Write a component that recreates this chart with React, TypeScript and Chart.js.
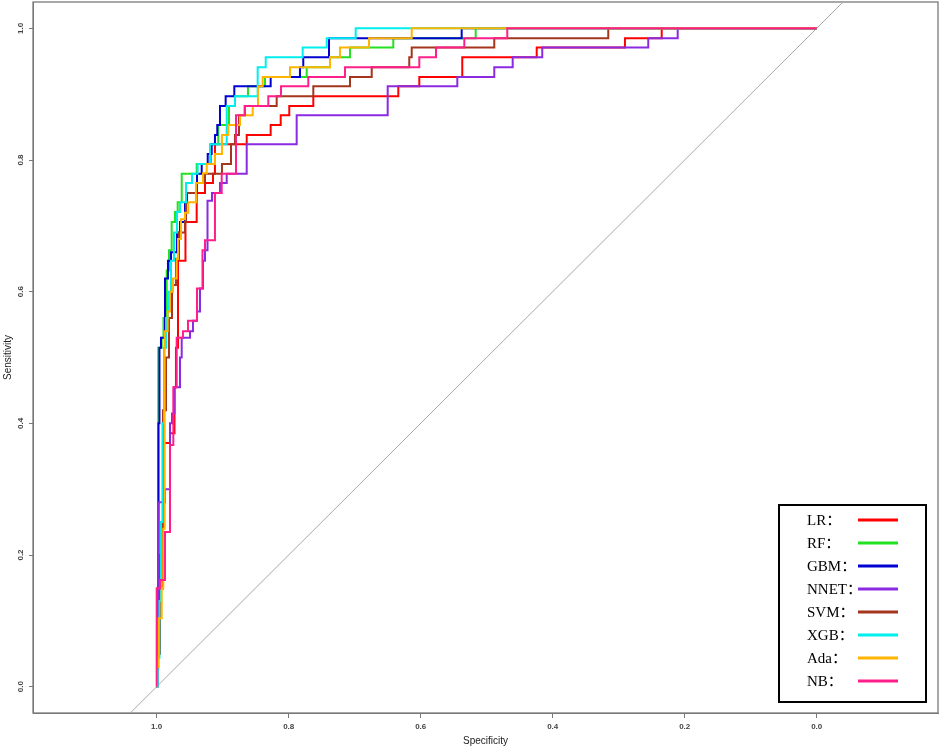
import { useEffect, useRef } from "react";
import { Chart, registerables } from "chart.js";

Chart.register(...registerables);

// ---------- data ----------
const modelNames = ["LR", "RF", "GBM", "NNET", "SVM", "XGB", "Ada", "NB"];
const modelColors = ["#FF0000", "#22E022", "#0000D0", "#8A2BE2", "#A5361E", "#00EEEE", "#FFB400", "#FF1F8A"];
const xTickValues = [1.0, 0.8, 0.6, 0.4, 0.2, 0.0];
const yTickValues = [0.0, 0.2, 0.4, 0.6, 0.8, 1.0];

// each curve: specificity / sensitivity at the top of every vertical step
const lrSpec = [1.0, 0.9995, 0.9905, 0.9798, 0.973, 0.9708, 0.9677, 0.9564, 0.9394, 0.9268, 0.9147, 0.9117, 0.8636, 0.8273, 0.8121, 0.7991, 0.7627, 0.6339, 0.6021, 0.537, 0.4242, 0.2905, 0.2348, 0.0];
const lrSens = [0.0, 0.149, 0.37, 0.385, 0.455, 0.515, 0.647, 0.706, 0.75, 0.765, 0.779, 0.824, 0.838, 0.853, 0.868, 0.882, 0.897, 0.912, 0.926, 0.956, 0.971, 0.985, 1.0, 1.0];

const rfSpec = [1.0, 0.9988, 0.9976, 0.9924, 0.9897, 0.9848, 0.9814, 0.9773, 0.9723, 0.9682, 0.9621, 0.9394, 0.9177, 0.9067, 0.8905, 0.8814, 0.8617, 0.8359, 0.7727, 0.7374, 0.7071, 0.6415, 0.5167, 0.0];
const rfSens = [0.0, 0.028, 0.515, 0.53, 0.56, 0.632, 0.663, 0.706, 0.721, 0.736, 0.779, 0.794, 0.824, 0.853, 0.882, 0.897, 0.912, 0.926, 0.941, 0.956, 0.971, 0.985, 1.0, 1.0];

const gbmSpec = [1.0, 0.9995, 0.9973, 0.9958, 0.9935, 0.9874, 0.9829, 0.9783, 0.9692, 0.9647, 0.9571, 0.9541, 0.9389, 0.9318, 0.9227, 0.9167, 0.9117, 0.9082, 0.9041, 0.8955, 0.8824, 0.8273, 0.7829, 0.7779, 0.7389, 0.5379, 0.0];
const gbmSens = [0.0, 0.131, 0.4, 0.515, 0.53, 0.62, 0.647, 0.66, 0.69, 0.706, 0.735, 0.75, 0.779, 0.794, 0.809, 0.824, 0.838, 0.853, 0.882, 0.897, 0.912, 0.926, 0.941, 0.956, 0.985, 1.0, 1.0];

const nnetSpec = [1.0, 0.9988, 0.9976, 0.9874, 0.9798, 0.9768, 0.973, 0.9647, 0.9621, 0.9495, 0.945, 0.9389, 0.9344, 0.9298, 0.9268, 0.923, 0.9162, 0.9041, 0.8939, 0.8636, 0.7879, 0.65, 0.5445, 0.4885, 0.4606, 0.4158, 0.2552, 0.2106, 0.0];
const nnetSens = [0.0, 0.045, 0.28, 0.3, 0.4, 0.415, 0.455, 0.5, 0.53, 0.54, 0.556, 0.57, 0.605, 0.647, 0.663, 0.738, 0.75, 0.765, 0.779, 0.824, 0.868, 0.912, 0.926, 0.941, 0.956, 0.971, 0.985, 1.0, 1.0];

const svmSpec = [1.0, 0.9995, 0.995, 0.9905, 0.9859, 0.9814, 0.9768, 0.9708, 0.9662, 0.9571, 0.9556, 0.9394, 0.9268, 0.9011, 0.8874, 0.8814, 0.8753, 0.8667, 0.8182, 0.7627, 0.7071, 0.6742, 0.6173, 0.6136, 0.4885, 0.3158, 0.0];
const svmSens = [0.0, 0.05, 0.2, 0.42, 0.5, 0.56, 0.61, 0.65, 0.69, 0.706, 0.75, 0.765, 0.779, 0.794, 0.824, 0.838, 0.868, 0.882, 0.897, 0.912, 0.926, 0.941, 0.956, 0.971, 0.985, 1.0, 1.0];

const xgbSpec = [1.0, 0.9988, 0.9958, 0.9935, 0.9912, 0.9889, 0.9859, 0.9829, 0.9783, 0.9738, 0.9692, 0.9647, 0.9556, 0.9465, 0.9379, 0.9192, 0.8939, 0.8814, 0.847, 0.8348, 0.7788, 0.7424, 0.6985, 0.0];
const xgbSens = [0.0, 0.044, 0.13, 0.25, 0.4, 0.515, 0.56, 0.6, 0.647, 0.69, 0.721, 0.736, 0.765, 0.779, 0.794, 0.824, 0.882, 0.897, 0.941, 0.956, 0.971, 0.985, 1.0, 1.0];

const adaSpec = [1.0, 0.9995, 0.9973, 0.9924, 0.99, 0.9879, 0.9833, 0.9798, 0.9753, 0.9697, 0.9677, 0.9632, 0.9571, 0.9521, 0.9405, 0.9298, 0.9242, 0.9117, 0.9011, 0.8915, 0.8738, 0.8545, 0.8465, 0.8394, 0.798, 0.7374, 0.7223, 0.6783, 0.6136, 0.0];
const adaSens = [0.0, 0.03, 0.104, 0.15, 0.24, 0.54, 0.57, 0.6, 0.62, 0.65, 0.68, 0.71, 0.72, 0.736, 0.765, 0.78, 0.794, 0.809, 0.838, 0.853, 0.868, 0.882, 0.912, 0.926, 0.941, 0.956, 0.971, 0.985, 1.0, 1.0];

const nbSpec = [1.0, 1.0, 0.995, 0.9874, 0.9798, 0.9748, 0.9697, 0.9602, 0.9526, 0.9389, 0.9306, 0.9268, 0.9117, 0.9015, 0.8798, 0.8662, 0.8309, 0.8117, 0.7703, 0.7147, 0.6021, 0.5768, 0.5339, 0.4688, 0.0];
const nbSens = [0.0, 0.149, 0.162, 0.235, 0.367, 0.455, 0.53, 0.54, 0.556, 0.605, 0.663, 0.678, 0.75, 0.779, 0.868, 0.882, 0.897, 0.912, 0.926, 0.941, 0.956, 0.971, 0.985, 1.0, 1.0];

const curveSpecs = [lrSpec, rfSpec, gbmSpec, nnetSpec, svmSpec, xgbSpec, adaSpec, nbSpec];
const curveSens = [lrSens, rfSens, gbmSens, nnetSens, svmSens, xgbSens, adaSens, nbSens];

const diagonalSpec = [1.2, -0.2];
const diagonalSens = [-0.2, 1.2];

// ---------- plugins ----------
const framePlugin = {
  id: "rocFrame",
  beforeDatasetsDraw(chart: any) {
    const { ctx, chartArea } = chart;
    ctx.save();
    ctx.strokeStyle = "#7a7a7a";
    ctx.lineWidth = 1.3;
    ctx.strokeRect(chartArea.left, chartArea.top, chartArea.right - chartArea.left, chartArea.bottom - chartArea.top);
    ctx.restore();
  },
};

const legendPlugin = {
  id: "rocLegend",
  afterDatasetsDraw(chart: any) {
    const { ctx, chartArea } = chart;
    const boxW = 147;
    const boxH = 197;
    const left = chartArea.right - 12 - boxW;
    const top = chartArea.bottom - 11 - boxH;
    ctx.save();
    ctx.fillStyle = "#ffffff";
    ctx.fillRect(left, top, boxW, boxH);
    ctx.lineWidth = 2;
    ctx.strokeStyle = "#000000";
    ctx.strokeRect(left, top, boxW, boxH);
    ctx.font = '15px "Liberation Serif", "Noto Sans CJK SC", serif';
    ctx.textBaseline = "alphabetic";
    ctx.textAlign = "left";
    modelNames.forEach((name, i) => {
      const y = top + 15 + i * 23;
      ctx.fillStyle = "#000000";
      ctx.fillText(name + "：", left + 28, y + 5);
      ctx.strokeStyle = modelColors[i];
      ctx.lineWidth = 3;
      ctx.beginPath();
      ctx.moveTo(left + 79, y);
      ctx.lineTo(left + 119, y);
      ctx.stroke();
    });
    ctx.restore();
  },
};

export default function App() {
  const canvasRef = useRef<HTMLCanvasElement | null>(null);

  useEffect(() => {
    if (!canvasRef.current) return;
    const datasets: any[] = curveSpecs.map((spec, i) => ({
      label: modelNames[i],
      data: spec.map((s, j) => ({ x: s, y: curveSens[i][j] })),
      borderColor: modelColors[i],
      backgroundColor: modelColors[i],
      borderWidth: 2,
      pointRadius: 0,
      stepped: "before",
      fill: false,
      order: modelNames.length - i,
    }));
    datasets.push({
      label: "diagonal",
      data: diagonalSpec.map((s, j) => ({ x: s, y: diagonalSens[j] })),
      borderColor: "#a8a8a8",
      borderWidth: 1,
      pointRadius: 0,
      fill: false,
      order: 100,
    });

    const tickFont = { family: '"Liberation Sans", Arial, sans-serif', size: 8, weight: "bold" };
    const titleFont = { family: '"Liberation Sans", Arial, sans-serif', size: 10 };

    const chart = new Chart(canvasRef.current, {
      type: "line",
      data: { datasets },
      options: {
        animation: false,
        responsive: true,
        maintainAspectRatio: false,
        layout: { padding: { top: 2, right: 3, bottom: 0, left: 0 } },
        plugins: { legend: { display: false }, tooltip: { enabled: false } },
        scales: {
          x: {
            type: "linear",
            reverse: true,
            min: -0.1838,
            max: 1.1874,
            afterBuildTicks: (scale: any) => {
              scale.ticks = xTickValues.map((v) => ({ value: v }));
            },
            afterFit: (scale: any) => {
              scale.height = 35;
              scale.paddingLeft = 0;
              scale.paddingRight = 0;
            },
            ticks: {
              autoSkip: false,
              maxRotation: 0,
              minRotation: 0,
              padding: 4,
              color: "#444444",
              font: tickFont,
              callback: (v: any) => Number(v).toFixed(1),
            },
            grid: { drawOnChartArea: false, drawTicks: true, tickLength: 5, color: "#777777" },
            border: { display: true, color: "#777777" },
            title: { display: true, text: "Specificity", color: "#222222", font: titleFont, padding: { top: 0, bottom: 1 } },
          },
          y: {
            type: "linear",
            min: -0.04,
            max: 1.04,
            afterBuildTicks: (scale: any) => {
              scale.ticks = yTickValues.map((v) => ({ value: v }));
            },
            afterFit: (scale: any) => {
              scale.width = 33;
              scale.paddingTop = 0;
              scale.paddingBottom = 0;
            },
            ticks: {
              autoSkip: false,
              minRotation: 90,
              maxRotation: 90,
              crossAlign: "center",
              padding: 3,
              color: "#444444",
              font: tickFont,
              callback: (v: any) => Number(v).toFixed(1),
            },
            grid: { drawOnChartArea: false, drawTicks: true, tickLength: 4, color: "#777777" },
            border: { display: true, color: "#777777" },
            title: { display: true, text: "Sensitivity", color: "#222222", font: titleFont, padding: { top: 2, bottom: 0 } },
          },
        },
      } as any,
      plugins: [framePlugin, legendPlugin],
    });
    return () => chart.destroy();
  }, []);

  return (
    <div style={{ position: "fixed", left: 0, top: 0, width: 941, height: 748, background: "#ffffff" }}>
      <canvas ref={canvasRef} />
    </div>
  );
}
